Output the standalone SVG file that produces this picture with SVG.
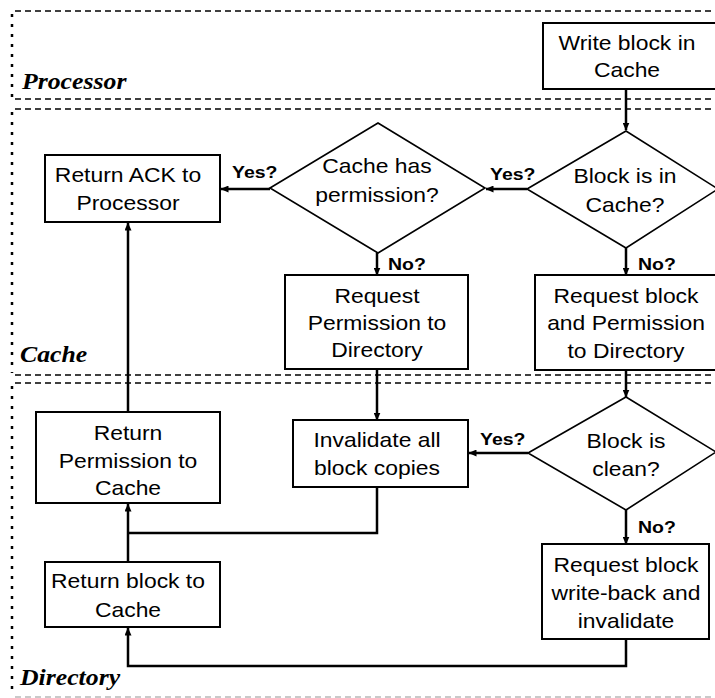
<svg xmlns="http://www.w3.org/2000/svg" width="715" height="698" viewBox="0 0 715 698">
  <style>
    .lane-h { fill: none; stroke: #000; stroke-width: 1.3; stroke-dasharray: 6 4; }
    .lane-h-grey { fill: none; stroke: #b8b8b8; stroke-width: 1.3; stroke-dasharray: 6 4; }
    .lane-v { fill: none; stroke: #000; stroke-width: 2.5; stroke-dasharray: 3 7; }
    .lane-label { font-family: "Liberation Serif", "Times New Roman", serif; font-weight: bold; font-style: italic; font-size: 22.5px; fill: #000; }
    .box { fill: #fff; stroke: #000; stroke-width: 2; }
    .dec { fill: #fff; stroke: #000; stroke-width: 1.6; }
    .t { font-family: "Liberation Sans", Arial, sans-serif; font-size: 20px; fill: #000; text-anchor: middle; }
    .lbl { font-family: "Liberation Sans", Arial, sans-serif; font-size: 17px; font-weight: bold; fill: #000; }
    .conn { fill: none; stroke: #000; stroke-width: 2.5; }
  </style>
  <defs>
    <marker id="arrow" markerUnits="userSpaceOnUse" markerWidth="8" markerHeight="7" refX="7.5" refY="3.5" orient="auto">
      <path d="M0,0 L8,3.5 L0,7 z" fill="#000"/>
    </marker>
  </defs>

  <rect x="0" y="0" width="715" height="698" fill="#fff"/>

  <!-- Swim lanes -->
  <g id="lanes">
    <g id="lane-processor">
      <path class="lane-h" d="M15,11 H715"/>
      <path class="lane-h" d="M15,99 H715"/>
      <path class="lane-v" d="M12,14 V97"/>
      <g transform="translate(22 0) scale(1.145 1)"><text class="lane-label" x="0" y="89">Processor</text></g>
    </g>
    <g id="lane-cache">
      <path class="lane-h" d="M15,109 H715"/>
      <path class="lane-h" d="M15,375 H715"/>
      <path class="lane-v" d="M12,112 V373"/>
      <g transform="translate(20 0) scale(1.145 1)"><text class="lane-label" x="0" y="362">Cache</text></g>
    </g>
    <g id="lane-directory">
      <path class="lane-h" d="M15,383 H715"/>
      <path class="lane-h-grey" d="M15,697 H715"/>
      <path class="lane-v" d="M12,386 V695"/>
      <g transform="translate(20 0) scale(1.145 1)"><text class="lane-label" x="0" y="685">Directory</text></g>
    </g>
  </g>

  <!-- Connectors -->
  <g id="connectors">
    <path class="conn" d="M626,90 V130" marker-end="url(#arrow)"/>
    <path class="conn" d="M527,189 H486" marker-end="url(#arrow)"/>
    <path class="conn" d="M270,189 H221" marker-end="url(#arrow)"/>
    <path class="conn" d="M377,253 V275" marker-end="url(#arrow)"/>
    <path class="conn" d="M626,248 V275" marker-end="url(#arrow)"/>
    <path class="conn" d="M377,369 V420" marker-end="url(#arrow)"/>
    <path class="conn" d="M626,370 V397" marker-end="url(#arrow)"/>
    <path class="conn" d="M528,453 H469" marker-end="url(#arrow)"/>
    <path class="conn" d="M626,510 V544" marker-end="url(#arrow)"/>
    <path class="conn" d="M377,487 V533 H128"/>
    <path class="conn" d="M128,562 V504" marker-end="url(#arrow)"/>
    <path class="conn" d="M626,639 V666 H128 V628" marker-end="url(#arrow)"/>
    <path class="conn" d="M128,412 V223" marker-end="url(#arrow)"/>
    <g transform="translate(490 0) scale(1.145 1)"><text class="lbl" x="0" y="180">Yes?</text></g>
    <g transform="translate(232 0) scale(1.145 1)"><text class="lbl" x="0" y="178">Yes?</text></g>
    <g transform="translate(388 0) scale(1.145 1)"><text class="lbl" x="0" y="270">No?</text></g>
    <g transform="translate(638 0) scale(1.145 1)"><text class="lbl" x="0" y="270">No?</text></g>
    <g transform="translate(480 0) scale(1.145 1)"><text class="lbl" x="0" y="445">Yes?</text></g>
    <g transform="translate(638 0) scale(1.145 1)"><text class="lbl" x="0" y="533">No?</text></g>
  </g>

  <!-- Processor lane -->
  <g id="write-block">
    <rect class="box" x="543" y="23" width="180" height="66"/>
    <g transform="translate(627 0) scale(1.145 1)">
      <text class="t" x="0" y="50">Write block in</text>
      <text class="t" x="0" y="77">Cache</text>
    </g>
  </g>

  <!-- Cache lane -->
  <g id="block-in-cache">
    <polygon class="dec" points="527,189 626,131 718,189 626,248"/>
    <g transform="translate(625 0) scale(1.145 1)">
      <text class="t" x="0" y="183">Block is in</text>
      <text class="t" x="0" y="212">Cache?</text>
    </g>
  </g>
  <g id="cache-has-permission">
    <polygon class="dec" points="270,188 378,123 485,188 378,253"/>
    <g transform="translate(377 0) scale(1.145 1)">
      <text class="t" x="0" y="173">Cache has</text>
      <text class="t" x="0" y="202">permission?</text>
    </g>
  </g>
  <g id="return-ack">
    <rect class="box" x="45" y="155" width="175" height="67"/>
    <g transform="translate(128 0) scale(1.145 1)">
      <text class="t" x="0" y="182">Return ACK to</text>
      <text class="t" x="0" y="210">Processor</text>
    </g>
  </g>
  <g id="request-permission">
    <rect class="box" x="285" y="275" width="183" height="94"/>
    <g transform="translate(377 0) scale(1.145 1)">
      <text class="t" x="0" y="303">Request</text>
      <text class="t" x="0" y="330">Permission to</text>
      <text class="t" x="0" y="357">Directory</text>
    </g>
  </g>
  <g id="request-block-permission">
    <rect class="box" x="535" y="275" width="190" height="95"/>
    <g transform="translate(626 0) scale(1.145 1)">
      <text class="t" x="0" y="303">Request block</text>
      <text class="t" x="0" y="330">and Permission</text>
      <text class="t" x="0" y="358">to Directory</text>
    </g>
  </g>

  <!-- Directory lane -->
  <g id="return-permission">
    <rect class="box" x="36" y="412" width="184" height="91"/>
    <g transform="translate(128 0) scale(1.145 1)">
      <text class="t" x="0" y="440">Return</text>
      <text class="t" x="0" y="468">Permission to</text>
      <text class="t" x="0" y="495">Cache</text>
    </g>
  </g>
  <g id="invalidate-copies">
    <rect class="box" x="293" y="420" width="175" height="67"/>
    <g transform="translate(377 0) scale(1.145 1)">
      <text class="t" x="0" y="447">Invalidate all</text>
      <text class="t" x="0" y="475">block copies</text>
    </g>
  </g>
  <g id="block-clean">
    <polygon class="dec" points="528,453 626,397 716,452 626,510"/>
    <g transform="translate(626 0) scale(1.145 1)">
      <text class="t" x="0" y="448">Block is</text>
      <text class="t" x="0" y="476">clean?</text>
    </g>
  </g>
  <g id="return-block">
    <rect class="box" x="45" y="562" width="175" height="65"/>
    <g transform="translate(128 0) scale(1.145 1)">
      <text class="t" x="0" y="588">Return block to</text>
      <text class="t" x="0" y="617">Cache</text>
    </g>
  </g>
  <g id="request-writeback">
    <rect class="box" x="542" y="544" width="167" height="95"/>
    <g transform="translate(626 0) scale(1.145 1)">
      <text class="t" x="0" y="572">Request block</text>
      <text class="t" x="0" y="600">write-back and</text>
      <text class="t" x="0" y="628">invalidate</text>
    </g>
  </g>
</svg>
